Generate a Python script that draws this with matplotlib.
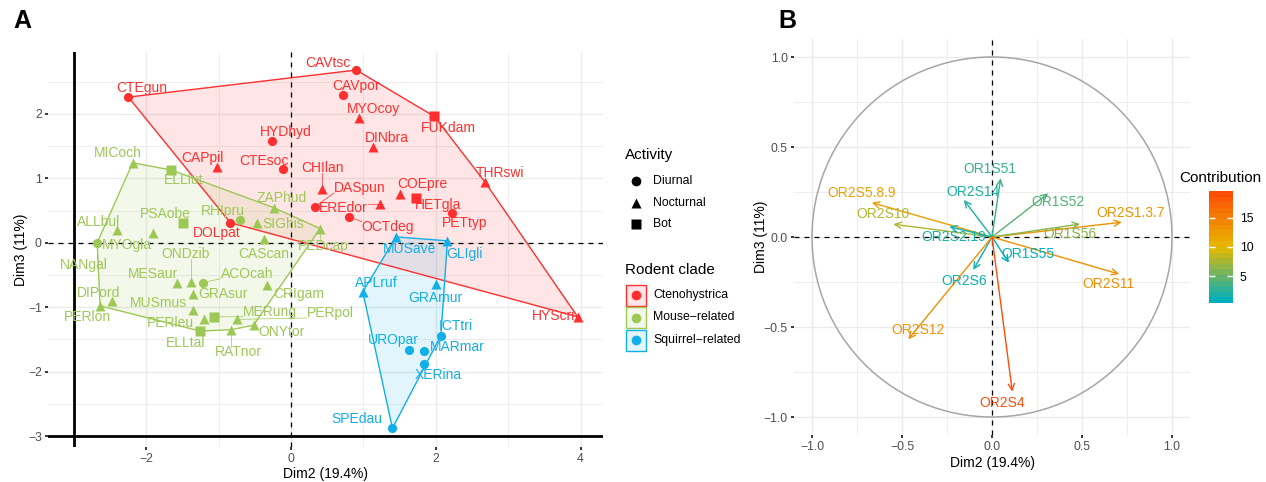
import numpy as np
import matplotlib
matplotlib.use("Agg")
import matplotlib.pyplot as plt
import matplotlib.patches as patches
from matplotlib.colors import LinearSegmentedColormap, Normalize
from matplotlib.cm import ScalarMappable

plt.rcParams['font.family'] = ['Liberation Sans', 'DejaVu Sans']

# ---------------- Panel A : individus (Dim2 / Dim3) ----------------
species = ["CTEgun", "CAVtsc", "CAVpor", "MYOcoy", "FUKdam", "DINbra", "HYDhyd", "CAPpil",
           "CTEsoc", "CHIlan", "DASpun", "EREdor", "COEpre", "HETgla", "OCTdeg", "PETtyp",
           "THRswi", "DOLpat", "HYScri",
           "MICoch", "ELLlut", "ZAPhud", "RHIpru", "SIGhis", "PSAobe", "ALLbul", "MYOgla",
           "NANgal", "CAScan", "PEDcap", "ONDzib", "MESaur", "ACOcah", "GRAsur", "CRIgam",
           "DIPord", "PERlon", "MUSmus", "PERleu", "MERung", "PERpol", "ELLtal", "RATnor",
           "ONYtor",
           "MUSave", "GLIgli", "APLruf", "GRAmur", "ICTtri", "UROpar", "MARmar", "XERina",
           "SPEdau"]
dim2 = [-2.25, 0.90, 0.71, 0.94, 1.98, 1.13, -0.27, -1.03,
        -0.11, 0.42, 0.33, 1.23, 1.50, 1.73, 0.80, 2.22,
        2.68, -0.84, 3.96,
        -2.19, -1.66, -0.23, -0.70, -0.47, -1.49, -2.41, -1.91,
        -2.68, -0.38, 0.40, -1.39, -1.58, -1.22, -1.36, -0.34,
        -2.48, -2.64, -1.35, -1.20, -1.06, -0.75, -1.26, -0.83,
        -0.52,
        1.45, 2.16, 0.99, 2.00, 2.07, 1.63, 1.83, 1.84,
        1.40]
dim3 = [2.26, 2.68, 2.29, 1.93, 1.96, 1.49, 1.58, 1.18,
        1.14, 0.84, 0.56, 0.60, 0.75, 0.70, 0.40, 0.46,
        0.94, 0.31, -1.15,
        1.24, 1.13, 0.54, 0.35, 0.31, 0.30, 0.19, 0.15,
        0.00, 0.06, 0.22, -0.61, -0.62, -0.62, -0.79, -0.66,
        -0.91, -0.98, -1.05, -1.18, -1.15, -1.19, -1.37, -1.35,
        -1.28,
        0.09, 0.03, -0.76, -0.64, -1.44, -1.66, -1.68, -1.88,
        -2.88]
clade = ["Ctenohystrica"] * 19 + ["Mouse\u2212related"] * 25 + ["Squirrel\u2212related"] * 9
activity = ["Diurnal", "Diurnal", "Diurnal", "Nocturnal", "Bot", "Nocturnal", "Diurnal", "Nocturnal",
            "Diurnal", "Nocturnal", "Diurnal", "Nocturnal", "Nocturnal", "Bot", "Diurnal", "Diurnal",
            "Nocturnal", "Diurnal", "Nocturnal",
            "Nocturnal", "Bot", "Nocturnal", "Diurnal", "Nocturnal", "Bot", "Nocturnal", "Nocturnal",
            "Diurnal", "Nocturnal", "Nocturnal", "Nocturnal", "Nocturnal", "Diurnal", "Nocturnal", "Nocturnal",
            "Nocturnal", "Nocturnal", "Nocturnal", "Nocturnal", "Bot", "Nocturnal", "Bot", "Nocturnal",
            "Nocturnal",
            "Nocturnal", "Nocturnal", "Nocturnal", "Nocturnal", "Diurnal", "Diurnal", "Diurnal", "Diurnal",
            "Diurnal"]
# position des étiquettes (repel figé)
label_x = [-2.06, 0.51, 0.90, 1.14, 2.17, 1.33, -0.07, -1.22,
           -0.38, 0.44, 0.95, 0.72, 1.81, 2.03, 1.34, 2.40,
           2.89, -1.03, 3.62,
           -2.39, -1.49, -0.13, -0.94, -0.11, -1.74, -2.66, -2.27,
           -2.87, -0.38, 0.45, -1.46, -1.91, -0.61, -0.94, 0.10,
           -2.66, -2.82, -1.83, -1.67, -0.29, 0.54, -1.46, -0.73,
           -0.13,
           1.64, 2.40, 1.18, 1.99, 2.27, 1.41, 2.29, 2.03,
           0.91]
label_y = [2.40, 2.79, 2.44, 2.07, 1.78, 1.62, 1.72, 1.31,
           1.27, 1.16, 0.85, 0.54, 0.91, 0.58, 0.25, 0.31,
           1.08, 0.15, -1.13,
           1.39, 0.97, 0.69, 0.50, 0.29, 0.44, 0.32, -0.04,
           -0.35, -0.17, -0.05, -0.17, -0.49, -0.48, -0.79, -0.79,
           -0.78, -1.15, -0.93, -1.24, -1.07, -1.09, -1.55, -1.69,
           -1.38,
           -0.10, -0.17, -0.63, -0.85, -1.29, -1.51, -1.62, -2.06,
           -2.73]

clade_names = ["Ctenohystrica", "Mouse\u2212related", "Squirrel\u2212related"]
clade_colors = ["#FF2F2F", "#9DC856", "#12AEE8"]
activity_names = ["Diurnal", "Nocturnal", "Bot"]
activity_markers = ["o", "^", "s"]
activity_sizes = [6.6, 7.6, 7.0]

# ---------------- Panel B : variables ----------------
variables = ["OR2S5.8.9", "OR2S10", "OR2S2.19", "OR2S14", "OR1S51", "OR1S52", "OR2S1.3.7",
             "OR1S56", "OR1S55", "OR2S6", "OR2S11", "OR2S12", "OR2S4"]
var_dim2 = [-0.668, -0.548, -0.237, -0.156, 0.048, 0.313, 0.721, 0.489, 0.094, -0.104, 0.707, -0.465, 0.113]
var_dim3 = [0.191, 0.071, 0.057, 0.206, 0.326, 0.243, 0.082, 0.072, -0.143, -0.183, -0.206, -0.568, -0.859]
contrib = [12.2, 7.7, 1.5, 1.7, 2.7, 4.0, 13.3, 6.2, 0.5, 1.1, 13.7, 13.6, 19.5]
var_label_x = [-0.724, -0.604, -0.215, -0.104, -0.011, 0.365, 0.772, 0.433, 0.200, -0.156, 0.646, -0.409, 0.054]
var_label_y = [0.243, 0.126, -0.002, 0.252, 0.378, 0.193, 0.135, 0.015, -0.094, -0.243, -0.263, -0.517, -0.921]

GRID = "#EBEBEB"
TICKCOL = "#4D4D4D"
W, H = 1266, 482


def px_axes(fig, left, top, right, bottom):
    """Crée un axe à partir de coordonnées en pixels (origine en haut à gauche)."""
    return fig.add_axes([left / W, (H - bottom) / H, (right - left) / W, (bottom - top) / H])


def convex_hull(xs, ys):
    """Enveloppe convexe (monotone chain), renvoie les indices."""
    pts = sorted(range(len(xs)), key=lambda i: (xs[i], ys[i]))

    def cross(o, a, b):
        return (xs[a] - xs[o]) * (ys[b] - ys[o]) - (ys[a] - ys[o]) * (xs[b] - xs[o])

    lower, upper = [], []
    for p in pts:
        while len(lower) >= 2 and cross(lower[-2], lower[-1], p) <= 0:
            lower.pop()
        lower.append(p)
    for p in reversed(pts):
        while len(upper) >= 2 and cross(upper[-2], upper[-1], p) <= 0:
            upper.pop()
        upper.append(p)
    return lower[:-1] + upper[:-1]


def style_axes(ax, xmajor, xminor, ymajor, yminor):
    ax.set_xticks(xmajor)
    ax.set_xticks(xminor, minor=True)
    ax.set_yticks(ymajor)
    ax.set_yticks(yminor, minor=True)
    ax.grid(True, which="major", color=GRID, lw=1.0, zorder=0)
    ax.grid(True, which="minor", color=GRID, lw=0.6, zorder=0)
    ax.set_axisbelow(True)
    for s in ax.spines.values():
        s.set_visible(False)
    ax.tick_params(which="major", length=2.5, width=1.1, color="black",
                   labelcolor=TICKCOL, labelsize=8.8, pad=2)
    ax.tick_params(which="minor", length=0)


fig = plt.figure(figsize=(W / 100, H / 100), dpi=100)

# ================= Panel A =================
axA = px_axes(fig, 48, 52, 603, 447)
axA.set_xlim(-3.36, 4.31)
axA.set_ylim(-3.17, 2.96)
style_axes(axA, [-2, 0, 2, 4], [-3, -1, 1, 3],
           [-3, -2, -1, 0, 1, 2], [-2.5, -1.5, -0.5, 0.5, 1.5, 2.5])
axA.set_yticklabels(["\u22123", "\u22122", "\u22121", "0", "1", "2"])
axA.set_xticklabels(["\u22122", "0", "2", "4"])
axA.axhline(-3, color="black", lw=2.0, zorder=1)
axA.axvline(-3, color="black", lw=2.0, zorder=1)

dim2_arr = np.array(dim2)
dim3_arr = np.array(dim3)

# enveloppes par clade
for cname, col in zip(clade_names, clade_colors):
    idx = [i for i, c in enumerate(clade) if c == cname]
    hx = dim2_arr[idx]
    hy = dim3_arr[idx]
    hull = convex_hull(list(hx), list(hy))
    poly = patches.Polygon(np.column_stack([hx[hull], hy[hull]]), closed=True,
                           facecolor=col, alpha=0.12, edgecolor="none", zorder=2)
    axA.add_patch(poly)
    edge = patches.Polygon(np.column_stack([hx[hull], hy[hull]]), closed=True,
                           facecolor="none", edgecolor=col, lw=1.0, zorder=2.2)
    axA.add_patch(edge)

axA.axhline(0, color="black", lw=0.9, ls=(0, (4, 4)), zorder=3)
axA.axvline(0, color="black", lw=0.9, ls=(0, (4, 4)), zorder=3)

# points
for cname, col in zip(clade_names, clade_colors):
    for aname, mk, ms in zip(activity_names, activity_markers, activity_sizes):
        idx = [i for i in range(len(species)) if clade[i] == cname and activity[i] == aname]
        if idx:
            axA.plot(dim2_arr[idx], dim3_arr[idx], ls="none", marker=mk, ms=ms,
                     color=col, mec="none", zorder=5)

# étiquettes
texts = []
for i, name in enumerate(species):
    col = clade_colors[clade_names.index(clade[i])]
    t = axA.text(label_x[i], label_y[i], name, color=col, fontsize=10,
                 ha="center", va="center", zorder=6)
    texts.append(t)

axA.set_xlabel("Dim2 (19.4%)", fontsize=10, labelpad=1)
axA.set_ylabel("Dim3 (11%)", fontsize=10, labelpad=0)

# ================= Panel B =================
axB = px_axes(fig, 794, 39, 1190, 435)
axB.set_xlim(-1.1, 1.1)
axB.set_ylim(-1.1, 1.1)
style_axes(axB, [-1.0, -0.5, 0.0, 0.5, 1.0], [-0.75, -0.25, 0.25, 0.75],
           [-1.0, -0.5, 0.0, 0.5, 1.0], [-0.75, -0.25, 0.25, 0.75])
axB.set_xticklabels(["\u22121.0", "\u22120.5", "0.0", "0.5", "1.0"])
axB.set_yticklabels(["\u22121.0", "\u22120.5", "0.0", "0.5", "1.0"])
axB.add_patch(patches.Circle((0, 0), 1.0, fill=False, edgecolor="#A6A6A6", lw=1.1, zorder=2))
axB.axhline(0, color="black", lw=0.9, ls=(0, (4, 4)), zorder=3)
axB.axvline(0, color="black", lw=0.9, ls=(0, (4, 4)), zorder=3)

cmap = LinearSegmentedColormap.from_list("contrib", ["#00AFBB", "#E7B800", "#FC4E07"])
norm = Normalize(vmin=min(contrib), vmax=max(contrib))
for i, v in enumerate(variables):
    col = cmap(norm(contrib[i]))
    axB.annotate("", xy=(var_dim2[i], var_dim3[i]), xytext=(0, 0),
                 arrowprops=dict(arrowstyle="->,head_length=0.45,head_width=0.22",
                                 color=col, lw=1.0, shrinkA=0, shrinkB=0), zorder=4)
    axB.text(var_label_x[i], var_label_y[i], v, color=col, fontsize=10,
             ha="center", va="center", zorder=5)

axB.set_xlabel("Dim2 (19.4%)", fontsize=10, labelpad=2)
axB.set_ylabel("Dim3 (11%)", fontsize=10, labelpad=-3)

# barre de couleur (20 niveaux comme ggplot)
cmap20 = LinearSegmentedColormap.from_list("contrib20", ["#00AFBB", "#E7B800", "#FC4E07"], N=20)
cax = px_axes(fig, 1209, 191, 1233, 303)
cb = fig.colorbar(ScalarMappable(norm=norm, cmap=cmap20), cax=cax, ticks=[5, 10, 15])
cb.outline.set_visible(False)
cax.tick_params(color="white", direction="in", length=4, width=1, labelsize=8.8,
                labelcolor="black", pad=5, left=True, right=True,
                labelleft=False, labelright=True)
fig.text(1179 / W, 1 - 178 / H, "Contribution", fontsize=11, ha="left", va="center")

# ================= Légendes panel A =================
lax = fig.add_axes([0, 0, 1, 1])
lax.set_xlim(0, W)
lax.set_ylim(H, 0)
lax.axis("off")
lax.patch.set_visible(False)

lax.text(625, 155, "Activity", fontsize=11, ha="left", va="center")
for j, (aname, mk) in enumerate(zip(activity_names, activity_markers)):
    y = 181 + j * 21.5
    lax.plot([636], [y], marker=mk, ms=7, color="black", mec="none", ls="none")
    lax.text(653, y, aname, fontsize=8.8, ha="left", va="center")

lax.text(625, 270, "Rodent clade", fontsize=11, ha="left", va="center")
for j, (cname, col) in enumerate(zip(clade_names, clade_colors)):
    y = 295 + j * 22.5
    lax.add_patch(patches.Rectangle((625.5, y - 10.5), 20, 21, facecolor=col, alpha=0.12,
                                    edgecolor="none"))
    lax.add_patch(patches.Rectangle((625.5, y - 10.5), 20, 21, facecolor="none",
                                    edgecolor=col, lw=1.0))
    lax.plot([635.5], [y], marker="o", ms=7, color=col, mec="none", ls="none")
    lax.text(653, y, cname, fontsize=8.8, ha="left", va="center")

fig.text(13 / W, 1 - 21 / H, "A", fontsize=18, fontweight="bold", ha="left", va="center")
fig.text(778 / W, 1 - 21 / H, "B", fontsize=18, fontweight="bold", ha="left", va="center")

# segments entre points et étiquettes éloignées (façon ggrepel)
fig.canvas.draw()
renderer = fig.canvas.get_renderer()
for i, t in enumerate(texts):
    bb = t.get_window_extent(renderer=renderer)
    px, py = axA.transData.transform((dim2[i], dim3[i]))
    nx = min(max(px, bb.x0), bb.x1)
    ny = min(max(py, bb.y0 + 2), bb.y1 - 2)
    d = np.hypot(nx - px, ny - py)
    if d > 11.5:
        col = clade_colors[clade_names.index(clade[i])]
        x0, y0 = axA.transData.inverted().transform((px, py))
        x1, y1 = axA.transData.inverted().transform((nx, ny))
        axA.plot([x0, x1], [y0, y1], color=col, lw=0.5, zorder=4)

fig.savefig("out.png", dpi=100)
